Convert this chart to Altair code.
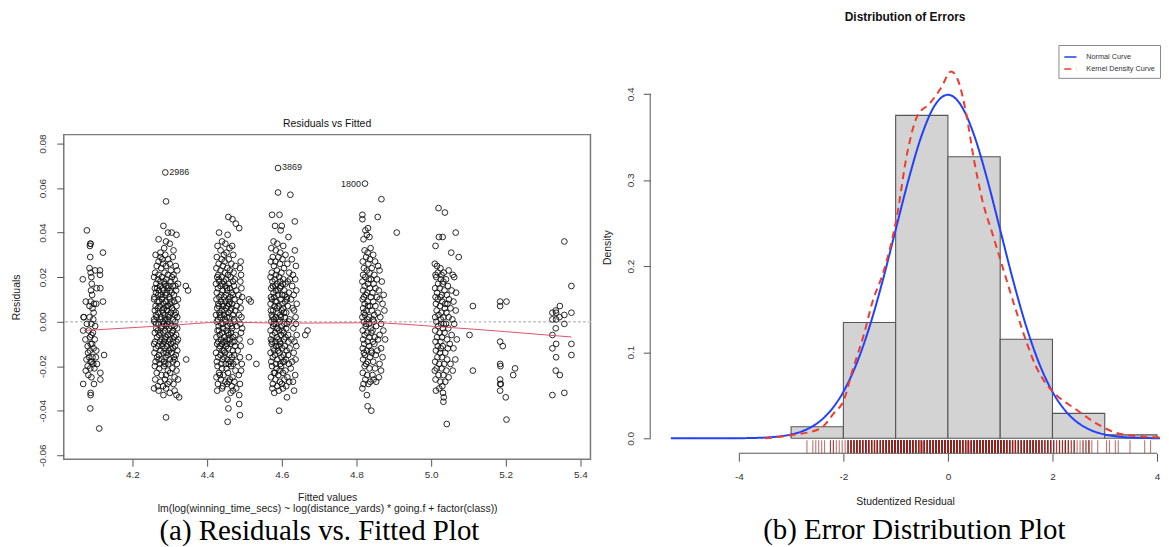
import altair as alt
import pandas as pd

# ---------------- Residuals vs Fitted: points (fitted*1000, residual*1000) ----------------
CL_A = [(4078,41),(4087,35),(4086,34),(4088,35),(4087,29),(4121,31),(4085,24),(4100,23),(4113,23),(4113,21),
        (4067,19),(4088,22),(4090,20),(4091,17),(4114,15),(4104,15),(4089,14),(4092,12),(4075,9),(4088,9),
        (4097,8),(4103,8),(4121,9),(4085,7),(4093,6),(4096,4),(4070,2),(4069,2),(4085,2),(4095,1),
        (4078,-1),(4090,-1),(4100,-2),(4068,-4),(4083,-4),(4094,-5),(4086,-7),(4074,-8),(4099,-8),(4088,-10),
        (4092,-10),(4080,-11),(4096,-12),(4086,-13),(4103,-13),(4124,-15),(4084,-16),(4093,-16),(4077,-17),(4088,-18),
        (4091,-18),(4095,-19),(4080,-20),(4105,-19),(4087,-21),(4075,-22),(4098,-21),(4082,-24),(4090,-25),(4114,-23),
        (4114,-26),(4068,-28),(4097,-28),(4088,-32),(4088,-33),(4087,-39),(4111,-48),(4102,-16),(4081,-14),(4090,-6)]
CL_B = [(4288,67),(4290,54),(4283,43),(4295,40),(4305,40),(4318,39),(4270,37),(4290,36),(4300,35),(4285,33),
        (4310,32),(4275,31),(4262,30),(4275,29),(4288,30),(4296,28),(4308,29),(4270,27),(4282,26),(4300,26),
        (4265,25),(4290,25),(4316,25),(4277,24),(4303,23),(4261,22),(4286,22),(4295,21),(4270,21),(4310,21),
        (4320,23),(4280,28),(4258,20),(4268,19),(4279,20),(4291,19),(4302,18),(4313,19),(4322,17),(4264,17),
        (4274,16),(4286,17),(4297,16),(4308,16),(4260,15),(4271,14),(4283,14),(4294,15),(4305,13),(4317,14),
        (4263,13),(4276,12),(4288,12),(4299,11),(4311,12),(4259,11),(4280,11),(4292,13),(4269,12),(4315,16),
        (4284,18),(4300,14),(4275,18),(4290,16),(4266,15),(4306,20),(4281,15),(4258,10),(4267,9),(4279,10),
        (4289,9),(4301,8),(4312,9),(4322,10),(4262,7),(4273,7),(4285,6),(4295,7),(4306,6),(4318,7),
        (4260,5),(4270,4),(4282,4),(4292,5),(4303,4),(4314,3),(4265,2),(4277,2),(4288,1),(4298,2),
        (4309,1),(4320,2),(4258,1),(4283,8),(4296,3),(4272,9),(4310,5),(4286,3),(4300,10),(4268,6),
        (4291,7),(4316,4),(4263,3),(4280,5),(4305,9),(4275,1),(4294,1),(4259,0),(4270,-1),(4281,0),
        (4293,-1),(4304,-2),(4315,0),(4264,-3),(4276,-3),(4287,-4),(4298,-3),(4309,-4),(4320,-3),(4260,-5),
        (4272,-6),(4283,-5),(4295,-6),(4306,-5),(4317,-6),(4266,-7),(4278,-8),(4289,-7),(4300,-8),(4312,-7),
        (4261,-9),(4274,-9),(4285,-9),(4297,-9),(4308,-9),(4322,-8),(4268,-4),(4291,-2),(4302,-6),(4280,-2),
        (4313,-2),(4287,-8),(4263,-1),(4296,0),(4275,-5),(4318,-9),(4284,-1),(4258,-10),(4269,-11),(4281,-10),
        (4292,-11),(4303,-10),(4314,-11),(4263,-12),(4275,-13),(4286,-12),(4298,-13),(4309,-12),(4320,-13),(4259,-14),
        (4271,-15),(4283,-14),(4294,-15),(4305,-14),(4316,-15),(4266,-16),(4278,-17),(4289,-16),(4300,-17),(4311,-16),
        (4262,-18),(4273,-19),(4285,-18),(4296,-19),(4308,-18),(4319,-19),(4280,-11),(4291,-14),(4270,-17),(4302,-12),
        (4288,-19),(4313,-17),(4260,-20),(4272,-21),(4284,-20),(4295,-22),(4307,-21),(4318,-22),(4265,-23),(4278,-24),
        (4290,-24),(4301,-23),(4313,-25),(4261,-26),(4275,-27),(4287,-26),(4299,-27),(4310,-28),(4268,-29),(4282,-29),
        (4294,-28),(4322,-26),(4258,-30),(4270,-31),(4290,-30),(4300,-32),(4313,-31),(4318,-33),(4325,-34),(4283,-33),
        (4290,-43),(4343,16),(4349,14),(4344,-17)]
CL_C = [(4457,47),(4468,46),(4477,44),(4486,42),(4432,40),(4455,39),(4467,34),(4440,36),(4449,35),(4428,34),
        (4460,33),(4436,32),(4452,31),(4445,30),(4470,30),(4426,29),(4439,28),(4458,28),(4490,27),(4447,27),
        (4431,26),(4465,26),(4476,25),(4442,25),(4454,24),(4425,24),(4488,24),(4436,23),(4461,23),(4448,22),
        (4471,22),(4430,21),(4456,21),(4491,21),(4427,20),(4439,20),(4451,19),(4463,20),(4474,19),(4433,18),
        (4445,18),(4458,17),(4469,18),(4489,18),(4424,17),(4436,16),(4449,16),(4461,15),(4472,16),(4429,15),
        (4442,14),(4454,14),(4466,13),(4478,14),(4492,15),(4426,13),(4438,12),(4450,12),(4462,11),(4433,11),
        (4445,11),(4457,10),(4469,12),(4484,12),(4494,11),(4441,17),(4453,15),(4431,19),(4425,10),(4437,9),
        (4449,9),(4461,9),(4473,10),(4488,9),(4430,8),(4443,7),(4455,7),(4467,8),(4479,7),(4427,6),
        (4439,5),(4451,6),(4463,5),(4475,5),(4490,6),(4433,4),(4445,3),(4457,4),(4469,3),(4424,3),
        (4436,2),(4448,1),(4460,2),(4472,1),(4486,3),(4429,1),(4441,8),(4453,2),(4465,6),(4492,2),
        (4431,7),(4447,5),(4459,8),(4435,3),(4426,0),(4438,-1),(4450,0),(4462,-1),(4474,0),(4489,-1),
        (4431,-2),(4443,-3),(4455,-2),(4467,-3),(4479,-2),(4428,-4),(4440,-5),(4452,-4),(4464,-5),(4476,-6),
        (4491,-5),(4434,-6),(4446,-7),(4458,-6),(4470,-7),(4425,-7),(4437,-8),(4449,-9),(4461,-8),(4473,-9),
        (4487,-8),(4430,-9),(4442,-1),(4454,-8),(4466,-2),(4432,-4),(4444,-9),(4456,-5),(4468,-9),(4494,-3),
        (4427,-10),(4439,-10),(4451,-11),(4463,-10),(4475,-11),(4490,-11),(4433,-12),(4445,-13),(4457,-12),(4469,-13),
        (4482,-13),(4424,-14),(4436,-15),(4448,-14),(4460,-15),(4472,-15),(4488,-16),(4430,-16),(4442,-17),(4454,-17),
        (4466,-16),(4478,-18),(4426,-18),(4438,-19),(4450,-19),(4462,-18),(4493,-19),(4434,-11),(4446,-16),(4458,-19),
        (4470,-19),(4441,-13),(4453,-10),(4428,-20),(4440,-21),(4452,-21),(4464,-20),(4476,-22),(4491,-22),(4432,-23),
        (4444,-24),(4456,-23),(4468,-25),(4485,-24),(4425,-25),(4437,-26),(4449,-27),(4461,-26),(4473,-27),(4429,-28),
        (4442,-29),(4454,-28),(4466,-29),(4488,-28),(4434,-24),(4458,-27),(4427,-31),(4469,-31),(4455,-35),(4457,-39),
        (4486,-33),(4486,-37),(4488,-42),(4455,-45),(4440,-30),(4478,-30),(4463,-32),(4512,10),(4517,9),(4516,-9),
        (4512,-16),(4532,-19)]
CL_D = [(4590,69),(4590,58),(4623,57),(4574,48),(4594,48),(4635,45),(4582,43),(4600,43),(4597,41),(4618,38),
        (4635,32),(4578,36),(4588,35),(4604,34),(4572,33),(4584,32),(4596,31),(4610,30),(4576,29),(4591,29),
        (4602,28),(4627,28),(4571,27),(4583,27),(4615,26),(4595,26),(4638,25),(4579,25),(4606,24),(4587,23),
        (4573,22),(4599,22),(4620,22),(4630,21),(4584,21),(4570,20),(4581,19),(4593,20),(4604,19),(4616,18),
        (4636,19),(4575,18),(4587,17),(4598,16),(4610,17),(4628,16),(4572,15),(4584,14),(4595,15),(4607,14),
        (4619,13),(4639,14),(4578,13),(4590,12),(4601,12),(4613,11),(4632,12),(4571,11),(4583,16),(4596,18),
        (4608,12),(4576,16),(4589,14),(4622,19),(4580,11),(4603,17),(4574,10),(4586,9),(4597,10),(4609,9),
        (4625,10),(4640,8),(4570,8),(4581,7),(4592,7),(4604,6),(4616,7),(4577,5),(4589,4),(4600,5),
        (4612,4),(4633,5),(4573,3),(4584,2),(4596,3),(4608,2),(4621,1),(4637,2),(4579,1),(4591,1),
        (4602,8),(4614,10),(4571,5),(4587,6),(4598,2),(4629,6),(4583,9),(4606,4),(4575,2),(4572,0),
        (4584,-1),(4595,0),(4607,-1),(4619,0),(4638,-1),(4577,-2),(4589,-3),(4600,-2),(4612,-3),(4631,-3),
        (4570,-4),(4582,-5),(4593,-4),(4605,-5),(4617,-6),(4575,-6),(4587,-7),(4598,-6),(4610,-7),(4626,-8),
        (4640,-6),(4571,-8),(4583,-9),(4595,-9),(4606,-8),(4618,-9),(4579,-1),(4591,-8),(4602,-4),(4614,-1),
        (4574,-9),(4586,-3),(4634,-9),(4573,-10),(4585,-11),(4596,-10),(4608,-11),(4621,-12),(4639,-11),(4578,-12),
        (4590,-13),(4601,-12),(4613,-13),(4570,-14),(4582,-15),(4594,-14),(4605,-15),(4617,-15),(4632,-14),(4576,-16),
        (4588,-17),(4599,-16),(4611,-17),(4628,-18),(4572,-18),(4584,-19),(4596,-19),(4607,-18),(4619,-19),(4637,-17),
        (4580,-13),(4592,-11),(4603,-18),(4574,-20),(4586,-21),(4598,-20),(4610,-22),(4624,-21),(4579,-23),(4591,-24),
        (4603,-23),(4615,-25),(4636,-24),(4571,-25),(4583,-26),(4595,-27),(4607,-26),(4620,-27),(4576,-28),(4588,-29),
        (4600,-28),(4612,-29),(4630,-27),(4582,-23),(4594,-22),(4575,-30),(4592,-31),(4614,-34),(4593,-40),(4633,-31),
        (4580,-32),(4603,-30),(4663,-6),(4669,-4)]
CL_E = [(4823,62),(4867,55),(4816,48),(4816,46),(4857,47),(4908,40),(4831,42),(4824,41),(4828,39),(4835,38),
        (4819,37),(4838,33),(4822,32),(4830,31),(4845,30),(4826,29),(4836,28),(4817,27),(4850,27),(4832,26),
        (4858,25),(4820,24),(4841,24),(4828,23),(4862,23),(4835,22),(4818,21),(4848,21),(4824,20),(4839,19),
        (4855,19),(4816,18),(4831,17),(4846,17),(4868,18),(4822,16),(4836,15),(4851,15),(4818,14),(4829,13),
        (4843,13),(4860,14),(4825,12),(4839,11),(4855,11),(4873,12),(4820,11),(4833,19),(4817,10),(4830,9),
        (4845,9),(4862,10),(4822,8),(4836,7),(4851,7),(4870,8),(4818,6),(4827,5),(4841,5),(4857,4),
        (4875,5),(4823,3),(4834,2),(4848,3),(4864,2),(4816,2),(4829,1),(4844,1),(4831,7),(4820,4),
        (4820,0),(4833,-1),(4847,0),(4866,-1),(4825,-2),(4838,-3),(4853,-2),(4817,-4),(4829,-5),(4843,-4),
        (4872,-4),(4822,-6),(4835,-7),(4849,-7),(4862,-6),(4818,-8),(4830,-9),(4844,-9),(4858,-8),(4826,-1),
        (4840,-5),(4877,-8),(4821,-10),(4834,-11),(4848,-10),(4866,-12),(4817,-12),(4828,-13),(4841,-14),(4856,-13),
        (4823,-15),(4836,-16),(4852,-15),(4870,-16),(4818,-17),(4830,-18),(4845,-18),(4862,-19),(4826,-19),(4839,-13),
        (4820,-14),(4822,-20),(4835,-21),(4850,-21),(4866,-22),(4817,-23),(4829,-24),(4843,-24),(4860,-25),(4824,-26),
        (4837,-27),(4853,-27),(4819,-28),(4832,-28),(4846,-26),(4828,-33),(4830,-38),(4840,-40),(4816,-30)]
CL_F = [(5020,51),(5037,49),(5066,40),(5021,38),(5031,38),(5012,34),(5054,31),(5074,29),(5010,26),(5016,25),
        (5025,24),(5018,22),(5034,22),(5047,23),(5012,21),(5028,21),(5058,21),(5014,20),(5026,19),(5040,19),
        (5062,20),(5019,17),(5031,17),(5045,16),(5011,15),(5023,15),(5036,14),(5055,14),(5016,13),(5029,12),
        (5042,12),(5067,13),(5012,11),(5025,11),(5048,10),(5033,18),(5018,10),(5030,9),(5044,8),(5060,9),
        (5013,8),(5024,7),(5037,6),(5052,6),(5015,5),(5028,4),(5041,4),(5066,5),(5020,3),(5033,2),
        (5047,2),(5011,2),(5026,1),(5057,1),(5038,8),(5014,0),(5027,-1),(5040,-1),(5062,-1),(5019,-2),
        (5032,-3),(5046,-3),(5011,-4),(5023,-5),(5036,-5),(5055,-6),(5016,-7),(5029,-7),(5043,-8),(5069,-8),
        (5012,-9),(5025,-9),(5050,-10),(5034,-1),(5018,-11),(5031,-11),(5045,-12),(5060,-12),(5013,-13),(5024,-14),
        (5038,-14),(5017,-16),(5029,-16),(5043,-17),(5065,-17),(5011,-18),(5022,-19),(5035,-19),(5052,-19),(5026,-12),
        (5015,-21),(5028,-21),(5041,-22),(5058,-22),(5020,-24),(5033,-24),(5047,-25),(5012,-26),(5025,-27),(5038,-27),
        (5030,-29),(5010,-22),(5013,-31),(5032,-32),(5034,-34),(5033,-36),(5042,-46),(5022,-30),(5112,7),(5103,-6),
        (5112,-22)]
CL_G = [(5185,9),(5185,7),(5202,9),(5185,-9),(5192,-11),(5185,-19),(5186,-20),(5225,-21),(5220,-24),(5185,-26),
        (5185,-28),(5187,-28),(5185,-31),(5200,-34),(5202,-44)]
CL_H = [(5357,36),(5376,16),(5345,7),(5334,5),(5325,4),(5335,4),(5357,3),(5376,4),(5325,1),(5335,1),
        (5344,2),(5357,-1),(5334,-3),(5325,-6),(5335,-10),(5376,-10),(5325,-12),(5335,-16),(5376,-15),(5334,-22),
        (5345,-24),(5325,-33),(5357,-32)]
CLUSTERS = [CL_A, CL_B, CL_C, CL_D, CL_E, CL_F, CL_G, CL_H]

LABEL_FIT = [4.288, 4.590, 4.823]
LABEL_RES = [0.0670, 0.0694, 0.0617]
LABEL_TXT = ["2986", "3869", "1800"]

LOWESS_FIT = [4.07, 4.29, 4.45, 4.60, 4.83, 5.03, 5.20, 5.376]
LOWESS_RES = [-0.0040, -0.0018, -0.0002, -0.0007, -0.0005, -0.0024, -0.0045, -0.0069]

X1_TICKS = [4.2, 4.4, 4.6, 4.8, 5.0, 5.2, 5.4]
Y1_TICKS = [-0.06, -0.04, -0.02, 0.0, 0.02, 0.04, 0.06, 0.08]

# ---------------- Distribution of Errors ----------------
BIN_LO = [-3, -2, -1, 0, 1, 2, 3]
BIN_HI = [-2, -1, 0, 1, 2, 3, 4]
BIN_DENS = [0.0135, 0.1345, 0.375, 0.327, 0.115, 0.029, 0.004]

NORM_X = [-5.3, -4.5, -4.0, -3.75, -3.5, -3.25, -3.0, -2.75, -2.5, -2.25, -2.0, -1.75, -1.5, -1.25,
          -1.0, -0.75, -0.5, -0.25, 0.0, 0.25, 0.5, 0.75, 1.0, 1.25, 1.5, 1.75, 2.0, 2.25, 2.5, 2.75,
          3.0, 3.25, 3.5, 3.75, 4.1]
NORM_Y = [0.0, 0.00002, 0.00013, 0.00035, 0.00087, 0.0020, 0.0044, 0.0091, 0.0175, 0.0317, 0.0540,
          0.0863, 0.1295, 0.1826, 0.2420, 0.3011, 0.3521, 0.3867, 0.3989, 0.3867, 0.3521, 0.3011,
          0.2420, 0.1826, 0.1295, 0.0863, 0.0540, 0.0317, 0.0175, 0.0091, 0.0044, 0.0020, 0.00087,
          0.00035, 0.0001]
KDE_X = [-3.5, -2.96, -2.45, -2.17, -2.0, -1.82, -1.62, -1.43, -1.24, -0.99, -0.77, -0.58, -0.36,
         -0.13, 0.06, 0.22, 0.34, 0.50, 0.66, 0.85, 1.10, 1.30, 1.49, 1.68, 1.87, 2.06, 2.44, 2.82,
         3.20, 3.58, 4.10]
KDE_Y = [0.0, 0.004, 0.011, 0.030, 0.043, 0.080, 0.118, 0.161, 0.192, 0.253, 0.334, 0.375, 0.388,
         0.407, 0.426, 0.411, 0.380, 0.323, 0.276, 0.238, 0.188, 0.149, 0.114, 0.084, 0.064, 0.051,
         0.034, 0.018, 0.0066, 0.0027, 0.001]
CURVE_NAMES = ["Normal Curve", "Kernel Density Curve"]
SIGMA = 0.0178  # residual scale used for the studentized rug

X2_TICKS = [-4, -2, 0, 2, 4]
Y2_TICKS = [0.0, 0.1, 0.2, 0.3, 0.4]

FONT = "Liberation Sans"
SERIF = "Liberation Serif"
MINUS = "'\u2212', '-'"

# ---------------- tables ----------------
pts = pd.DataFrame([(f / 1000, r / 1000) for cl in CLUSTERS for f, r in cl], columns=["fitted", "resid"])
low = pd.DataFrame({"fitted": LOWESS_FIT, "resid": LOWESS_RES})
lab = pd.DataFrame({"fitted": LABEL_FIT, "resid": LABEL_RES, "txt": LABEL_TXT})
bins = pd.DataFrame({"lo": BIN_LO, "hi": BIN_HI, "dens": BIN_DENS})
curves = pd.concat([
    pd.DataFrame({"x": NORM_X, "y": NORM_Y, "curve": CURVE_NAMES[0]}),
    pd.DataFrame({"x": KDE_X, "y": KDE_Y, "curve": CURVE_NAMES[1]}),
])
rug = pd.DataFrame({"x": pts["resid"] / SIGMA})
xline = pd.DataFrame({"x": [min(X2_TICKS)], "x2": [max(X2_TICKS)]})
yline = pd.DataFrame({"y": [min(Y2_TICKS)], "y2": [max(Y2_TICKS)]})

# ---------------- left panel ----------------
W1, H1 = 529, 326
xs1 = alt.Scale(domain=[4.016, 5.427], nice=False, zero=False)
ys1 = alt.Scale(domain=[-0.0618, 0.084], nice=False, zero=False)
xax1 = alt.Axis(values=X1_TICKS, labelExpr="format(datum.value, '.1f')",
                title=["Fitted values", "lm(log(winning_time_secs) ~ log(distance_yards) * going.f + factor(class))"],
                tickSize=7, labelPadding=3, titlePadding=13, labelFontSize=10, titleFontSize=10.5,
                titleLineHeight=12, domain=False, grid=False, labelFlush=False)
yax1 = alt.Axis(values=Y1_TICKS, labelExpr="replace(format(datum.value, '.2f'), " + MINUS + ")",
                title="Residuals", tickSize=7, labelPadding=9, titlePadding=16, labelFontSize=10,
                titleFontSize=10.5, labelAngle=270, labelAlign="center", labelBaseline="bottom",
                domain=False, grid=False, labelFlush=False)

X1 = alt.X("fitted:Q", scale=xs1, axis=xax1)
Y1 = alt.Y("resid:Q", scale=ys1, axis=yax1)

points = alt.Chart(pts).mark_point(shape="circle", filled=False, size=33, strokeWidth=1.0,
                                   color="#111", opacity=0.9, clip=True).encode(x=X1, y=Y1)
zero = alt.Chart(low).mark_rule(color="#c4c4c4", strokeDash=[2, 3], strokeWidth=1).encode(y=alt.datum(0))
lowess = alt.Chart(low).mark_line(color="#df536b", strokeWidth=1, interpolate="monotone").encode(x=X1, y=Y1)
labels_r = alt.Chart(lab).transform_filter("datum.txt != '1800'").mark_text(
    align="left", baseline="middle", dx=4, font=FONT, fontSize=9, color="#222").encode(x=X1, y=Y1, text="txt:N")
labels_l = alt.Chart(lab).transform_filter("datum.txt == '1800'").mark_text(
    align="right", baseline="middle", dx=-4, font=FONT, fontSize=9, color="#222").encode(x=X1, y=Y1, text="txt:N")

left_plot = alt.layer(zero, points, lowess, labels_r, labels_l).properties(
    width=W1, height=H1,
    title=alt.TitleParams("Residuals vs Fitted", font=FONT, fontSize=10.5, fontWeight="normal",
                          color="#111", offset=4, anchor="middle", frame="group"),
    view=alt.ViewBackground(stroke="#7a7a7a", strokeWidth=1.5),
)

spacer = alt.Chart(pd.DataFrame({"v": [0]})).mark_point(opacity=0).encode(
    x=alt.X("v:Q", axis=None), y=alt.Y("v:Q", axis=None)).properties(width=10, height=77)

left_col = alt.vconcat(spacer, left_plot, spacing=0).properties(
    title=alt.TitleParams("(a) Residuals vs. Fitted Plot", orient="bottom", anchor="middle",
                          font=SERIF, fontSize=29, fontWeight="normal", color="#000", offset=2, dx=18))

# ---------------- right panel ----------------
W2, H2 = 512, 414
xs2 = alt.Scale(domain=[-5.695, 4.057], nice=False, zero=False)
ys2 = alt.Scale(domain=[-0.01734, 0.4613], nice=False, zero=False)
xax2 = alt.Axis(values=X2_TICKS, labelExpr="replace(format(datum.value, 'd'), " + MINUS + ")",
                title="Studentized Residual", tickSize=8, labelPadding=10, titlePadding=15,
                labelFontSize=10, titleFontSize=10.5, domain=False, grid=False, labelFlush=False)
yax2 = alt.Axis(values=Y2_TICKS, labelExpr="format(datum.value, '.1f')", title="Density",
                tickSize=7, labelPadding=8, titlePadding=13, labelFontSize=10, titleFontSize=10.5,
                labelAngle=270, labelAlign="center", labelBaseline="bottom", domain=False, grid=False,
                labelFlush=False)

bars = alt.Chart(bins).mark_rect(fill="#d3d3d3", stroke="#555", strokeWidth=1.1).encode(
    x=alt.X("lo:Q", scale=xs2, axis=xax2), x2="hi:Q",
    y=alt.Y("dens:Q", scale=ys2, axis=yax2), y2=alt.datum(0))
rugs = alt.Chart(rug).mark_rule(color="#94201c", opacity=0.62, strokeWidth=1.1, clip=True).encode(
    x=alt.X("x:Q", scale=xs2, axis=xax2), y=alt.value(H2), y2=alt.value(H2 - 13))
leg = alt.Legend(title=None, orient="none", legendX=410, legendY=4, strokeColor="#8a8a8a",
                 fillColor="white", padding=5, symbolType="stroke", symbolSize=150,
                 symbolStrokeWidth=1.5, labelFont=FONT, labelFontSize=7.3, labelColor="#333",
                 rowPadding=1, labelOffset=9)
lines = alt.Chart(curves).mark_line(strokeWidth=2, interpolate="monotone", clip=True).encode(
    x=alt.X("x:Q", scale=xs2, axis=xax2), y=alt.Y("y:Q", scale=ys2, axis=yax2),
    color=alt.Color("curve:N", scale=alt.Scale(domain=CURVE_NAMES, range=["#2040ff", "#ee3b2e"]), legend=leg),
    strokeDash=alt.StrokeDash("curve:N", scale=alt.Scale(domain=CURVE_NAMES, range=[[1, 0], [7, 5]]), legend=leg),
    detail="curve:N")
xl = alt.Chart(xline).mark_rule(color="#555", strokeWidth=1).encode(
    x=alt.X("x:Q", scale=xs2, axis=xax2), x2="x2:Q", y=alt.value(H2))
yl = alt.Chart(yline).mark_rule(color="#555", strokeWidth=1).encode(
    y=alt.Y("y:Q", scale=ys2, axis=yax2), y2="y2:Q", x=alt.value(0))

right_plot = alt.layer(bars, rugs, lines, xl, yl).properties(
    width=W2, height=H2,
    title=alt.TitleParams("Distribution of Errors", font=FONT, fontSize=12, fontWeight="bold",
                          color="#111", offset=17, anchor="middle", frame="group"),
)
right_col = alt.vconcat(right_plot).properties(
    title=alt.TitleParams("(b) Error Distribution Plot", orient="bottom", anchor="middle",
                          font=SERIF, fontSize=29, fontWeight="normal", color="#000", offset=10, dx=33)
).resolve_scale(color="independent", strokeDash="independent")

chart = alt.hconcat(left_col, right_col, spacing=10).properties(
    padding={"left": 3, "top": 2, "right": 0, "bottom": 0}, background="white"
).resolve_scale(color="independent", strokeDash="independent").configure_view(stroke=None).configure_axis(
    labelFont=FONT, titleFont=FONT, titleFontWeight="normal", titleColor="#222",
    labelColor="#333", tickColor="#555", tickWidth=1
).configure_title(font=FONT)

chart.save("out.html", embed_options={"renderer": "svg", "actions": False})
